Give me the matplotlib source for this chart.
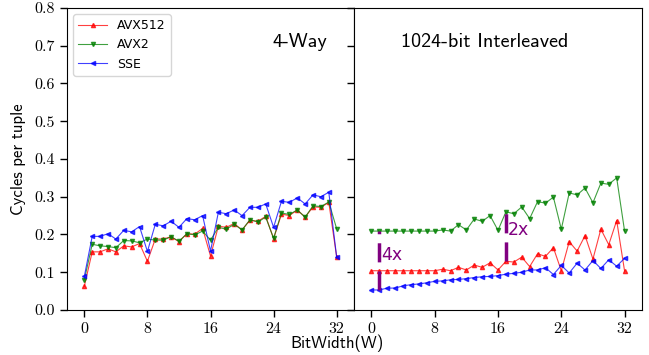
import matplotlib
matplotlib.use('Agg')
import matplotlib.pyplot as plt
import numpy as np

plt.rcParams['axes.unicode_minus'] = False

# bit widths 0..32
bitwidth = list(range(33))

# 4-Way (left panel)
way4_avx512 = [0.063, 0.154, 0.154, 0.162, 0.154, 0.170, 0.167, 0.176, 0.129, 0.188,
               0.188, 0.194, 0.181, 0.202, 0.201, 0.216, 0.143, 0.222, 0.219, 0.229,
               0.212, 0.238, 0.235, 0.248, 0.189, 0.254, 0.250, 0.265, 0.246, 0.273,
               0.272, 0.285, 0.140]
way4_avx2 = [0.080, 0.174, 0.170, 0.168, 0.165, 0.184, 0.183, 0.178, 0.188, 0.185,
             0.185, 0.194, 0.182, 0.202, 0.199, 0.209, 0.185, 0.219, 0.214, 0.227,
             0.212, 0.239, 0.233, 0.246, 0.190, 0.257, 0.253, 0.265, 0.246, 0.276,
             0.274, 0.286, 0.215]
way4_sse = [0.089, 0.195, 0.195, 0.202, 0.188, 0.211, 0.207, 0.221, 0.155, 0.227,
            0.223, 0.235, 0.219, 0.242, 0.239, 0.250, 0.156, 0.259, 0.255, 0.265,
            0.250, 0.272, 0.272, 0.281, 0.219, 0.288, 0.285, 0.297, 0.281, 0.305,
            0.300, 0.312, 0.140]

# 1024-bit Interleaved (right panel)
il_avx512 = [0.104, 0.104, 0.104, 0.104, 0.104, 0.104, 0.104, 0.104, 0.104, 0.108,
             0.104, 0.113, 0.106, 0.119, 0.113, 0.125, 0.106, 0.129, 0.127, 0.140,
             0.115, 0.149, 0.142, 0.165, 0.104, 0.181, 0.156, 0.197, 0.135, 0.214,
             0.173, 0.237, 0.103]
il_avx2 = [0.209, 0.209, 0.209, 0.209, 0.209, 0.209, 0.209, 0.209, 0.209, 0.212,
           0.209, 0.226, 0.212, 0.241, 0.235, 0.250, 0.211, 0.260, 0.255, 0.273,
           0.242, 0.287, 0.283, 0.299, 0.214, 0.310, 0.305, 0.323, 0.284, 0.336,
           0.333, 0.350, 0.209]
il_sse = [0.053, 0.053, 0.058, 0.058, 0.064, 0.067, 0.069, 0.072, 0.076, 0.077,
          0.080, 0.081, 0.083, 0.086, 0.088, 0.089, 0.091, 0.095, 0.097, 0.100,
          0.106, 0.106, 0.112, 0.094, 0.118, 0.098, 0.124, 0.106, 0.131, 0.110,
          0.133, 0.116, 0.137]

series = [('AVX512', 'r', '^'), ('AVX2', 'g', 'v'), ('SSE', 'b', '<')]

fig = plt.figure(figsize=(6.49, 3.55), dpi=100)
ax1 = fig.add_axes([0.1032, 0.1268, 0.4423, 0.8507])
ax2 = fig.add_axes([0.5455, 0.1268, 0.4437, 0.8507], sharey=ax1)

for ax, data in [(ax1, [way4_avx512, way4_avx2, way4_sse]),
                 (ax2, [il_avx512, il_avx2, il_sse])]:
    for (name, col, mk), ys in zip(series, data):
        ax.plot(bitwidth, ys, color=col, marker=mk, markersize=3.0,
                linewidth=0.8, alpha=0.75, label=name)
    ax.set_xlim(-2.2, 34.2)
    ax.set_xticks([0, 8, 16, 24, 32])
    ax.tick_params(direction='out', length=5, width=1)

ax1.set_ylim(0, 0.8)
ax1.set_yticks(np.arange(0, 0.81, 0.1))
ax1.set_yticklabels(['%.1f' % v for v in np.arange(0, 0.81, 0.1)])
ax2.tick_params(labelleft=False)
for ax in (ax1, ax2):
    for lbl in ax.get_xticklabels() + ax.get_yticklabels():
        lbl.set_fontfamily('cmr10')
        lbl.set_fontsize(11.5)

ax1.set_ylabel('Cycles per tuple', family='cmss10', fontsize=12, labelpad=6)
fig.text(0.52, 0.033, 'BitWidth(W)', ha='center', va='center',
         family='cmss10', fontsize=12)

ax1.text(30.8, 0.71, '4-Way', ha='right', va='center', family='cmss10', fontsize=14.5)
ax2.text(3.8, 0.71, '1024-bit Interleaved', ha='left', va='center',
         family='cmss10', fontsize=14.5)

# speedup markers
ax2.plot([1, 1], [il_sse[1], il_avx2[1]], color='purple', linewidth=2.5,
         linestyle=(0, (5.5, 2.6)))
ax2.plot([17, 17], [il_avx512[17], il_avx2[17]], color='purple', linewidth=2.5,
         linestyle=(0, (5.5, 2.6)))
ax2.text(1.2, 0.145, '4x', color='purple', fontsize=12.5, va='center', ha='left')
ax2.text(17.2, 0.212, '2x', color='purple', fontsize=12.5, va='center', ha='left')

ax1.legend(loc='upper left', fontsize=9, handlelength=2.3, numpoints=1)

fig.savefig('out.png', dpi=100)
